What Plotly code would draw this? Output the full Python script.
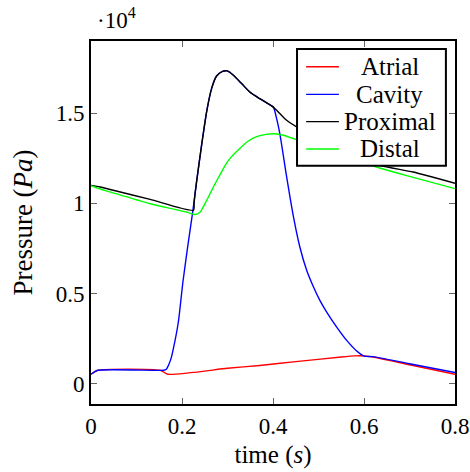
import plotly.graph_objects as go

# ---- data (time in s, pressure in Pa) ----
atrial_t = [0.0, 0.015, 0.152, 0.169, 0.30, 0.371, 0.45, 0.55, 0.58, 0.60, 0.62, 0.70, 0.80]
atrial_p = [520, 740, 740, 520, 850, 1010, 1220, 1480, 1540, 1540, 1480, 1050, 520]

cavity_t = [0.0, 0.015, 0.160, 0.165, 0.170, 0.176, 0.181, 0.192, 0.202, 0.214, 0.2235, 0.232,
            0.243, 0.254, 0.265, 0.276, 0.289, 0.2996, 0.313, 0.331, 0.349, 0.371, 0.397,
            0.401, 0.408, 0.415, 0.430, 0.445, 0.459, 0.474, 0.489, 0.503, 0.518, 0.540,
            0.562, 0.584, 0.600, 0.620, 0.700, 0.800]
cavity_p = [520, 740, 740, 780, 1000, 1400, 1940, 3420, 5640, 7860, 9520, 11190,
            13220, 15070, 16370, 17070, 17330, 17350, 17110, 16650, 16180, 15810, 15410,
            15350, 14700, 13870, 11470, 9250, 7580, 6290, 5360, 4620, 3970, 3140,
            2400, 1810, 1530, 1500, 1100, 620]

proximal_t = [0.0, 0.02, 0.049, 0.130, 0.2255, 0.2265, 0.232, 0.243, 0.254, 0.265, 0.276,
              0.289, 0.2996, 0.313, 0.331, 0.349, 0.371, 0.397, 0.408, 0.430, 0.456,
              0.48, 0.50, 0.53, 0.56, 0.60, 0.635, 0.708, 0.80]
proximal_p = [11000, 10910, 10730, 10220, 9620, 10000, 11190, 13220, 15070, 16370, 17070,
              17330, 17350, 17110, 16650, 16180, 15810, 15410, 15170, 14610, 14180,
              13830, 13570, 13250, 12920, 12500, 12110, 11740, 11120]

distal_t = [0.0, 0.03, 0.10, 0.130, 0.210, 0.2286, 0.240, 0.2505, 0.260, 0.269, 0.278,
            0.287, 0.296, 0.3055, 0.327, 0.345, 0.364, 0.385, 0.403, 0.423, 0.445, 0.470,
            0.50, 0.55, 0.60, 0.64, 0.70, 0.80]
distal_p = [10980, 10720, 10200, 9980, 9520, 9380, 9520, 9990, 10450, 10910, 11340,
            11750, 12150, 12500, 13050, 13450, 13700, 13830, 13860, 13780, 13600, 13400,
            13100, 12620, 12220, 11920, 11500, 10820]

names = ["Atrial", "Cavity", "Proximal", "Distal"]
colors = ["#ff0000", "#0000ff", "#000000", "#00ff00"]

xticks = [0, 0.2, 0.4, 0.6, 0.8]
xticklabels = ["0", "0.2", "0.4", "0.6", "0.8"]
yticks = [0, 5000, 10000, 15000]
yticklabels = ["0", "0.5", "1", "1.5"]

FONT = "Liberation Serif"

fig = go.Figure()
series = [(atrial_t, atrial_p), (cavity_t, cavity_p), (proximal_t, proximal_p), (distal_t, distal_p)]
for (t, p), n, c in zip(series, names, colors):
    fig.add_trace(go.Scatter(x=t, y=p, mode="lines", name=n, showlegend=False,
                             line=dict(color=c, width=1.4, shape="spline", smoothing=0.6)))

# legend box drawn in paper coordinates (centered labels as in the reference)
LX0, LX1, LY0, LY1 = 0.566, 0.975, 0.656, 0.978
row_y = [0.929, 0.853, 0.778, 0.7025]
fig.add_shape(type="rect", xref="paper", yref="paper", x0=LX0, x1=LX1, y0=LY0, y1=LY1,
              line=dict(color="black", width=2), fillcolor="white", layer="above")
for n, c, yy in zip(names, colors, row_y):
    fig.add_shape(type="line", xref="paper", yref="paper", x0=0.591, x1=0.681, y0=yy, y1=yy,
                  line=dict(color=c, width=1.4), layer="above")
    fig.add_annotation(text=n, xref="paper", yref="paper", x=0.8214, y=yy,
                       xanchor="center", yanchor="middle", showarrow=False,
                       font=dict(family=FONT, size=25, color="black"))

fig.update_layout(
    width=470, height=472,
    margin=dict(l=91, r=15, t=41, b=68, autoexpand=False),
    paper_bgcolor="white", plot_bgcolor="white",
    font=dict(family=FONT, size=23, color="black"),
    showlegend=False,
)
fig.update_xaxes(range=[0, 0.8], tickvals=xticks, ticktext=xticklabels, automargin=False,
                 showgrid=False, zeroline=False, showline=True, linecolor="black",
                 linewidth=2, mirror="allticks", ticks="inside", ticklen=6,
                 tickcolor="#666", tickwidth=1,
                 title=dict(text="time (<i>s</i>)", font=dict(family=FONT, size=25), standoff=8))
fig.update_yaxes(range=[-1130, 19010], tickvals=yticks, ticktext=yticklabels, automargin=False,
                 showgrid=False, zeroline=False, showline=True, linecolor="black",
                 linewidth=2, mirror="allticks", ticks="inside", ticklen=6,
                 tickcolor="#666", tickwidth=1,
                 title=dict(text="Pressure (<i>Pa</i>)", font=dict(family=FONT, size=27), standoff=15))
fig.add_annotation(text="\u00b710<sup>4</sup>", xref="paper", yref="paper",
                   x=0.012, y=1.0, xanchor="left", yanchor="bottom", yshift=6,
                   showarrow=False, font=dict(family=FONT, size=23))

fig.write_html("out.html", config={"displayModeBar": False},
               post_script="document.body.style.margin='0';document.body.style.padding='0';")
